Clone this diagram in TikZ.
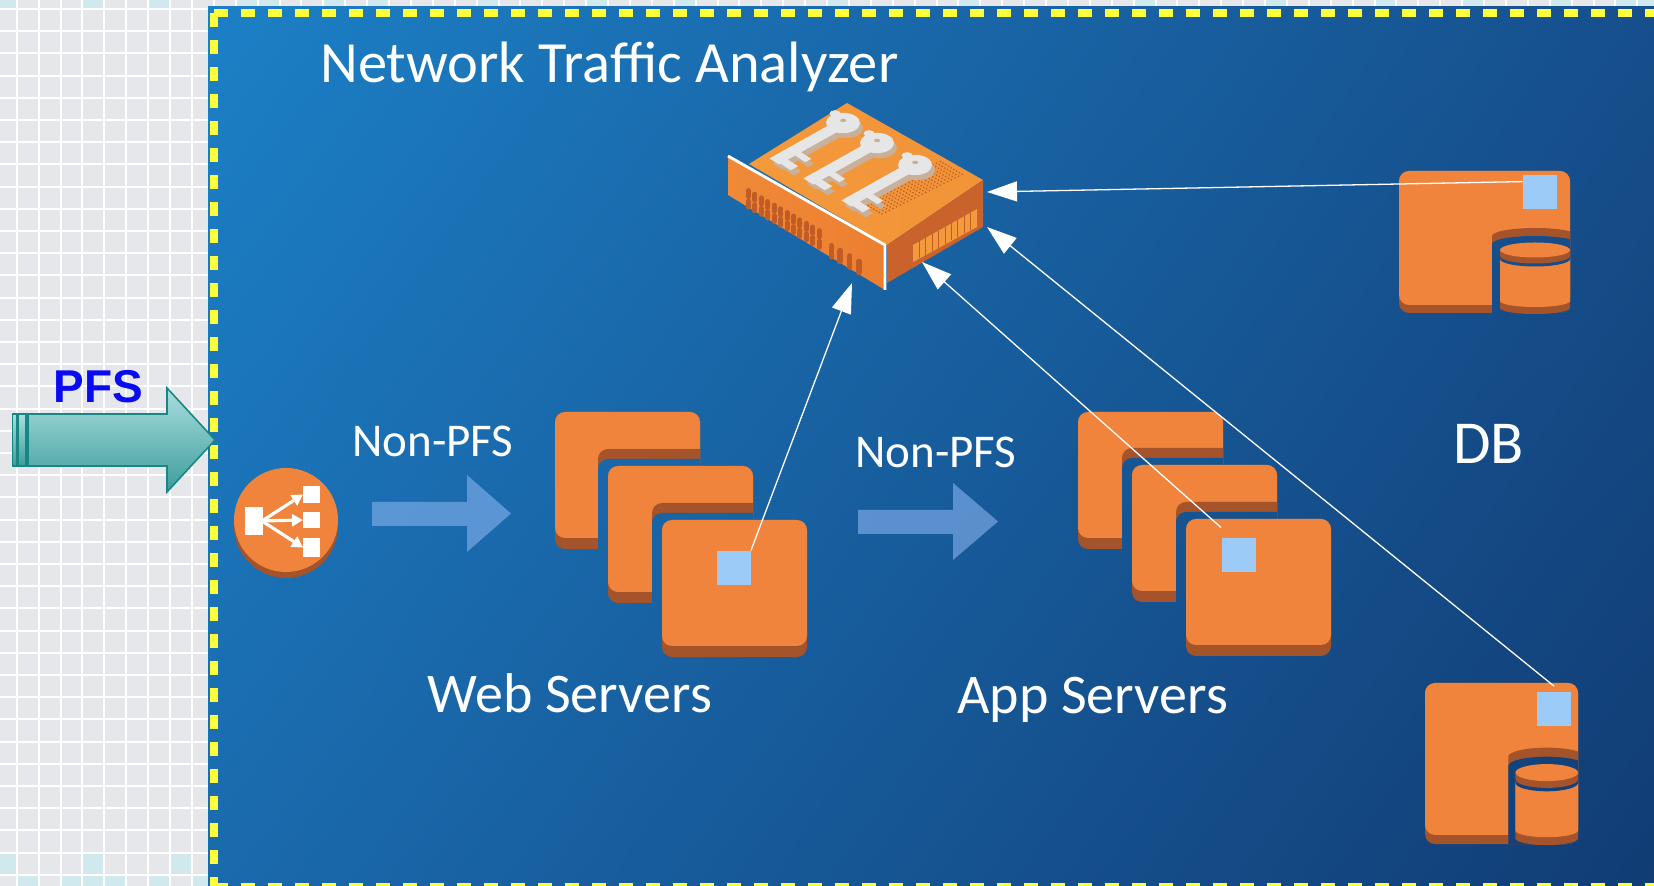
\documentclass[tikz,border=0pt]{standalone}
\usepackage{fontspec}
\setmainfont{Carlito}
\newfontfamily\pfsfont{Liberation Sans}
\usetikzlibrary{arrows.meta,calc,shadings}

\definecolor{gridbg}{HTML}{E6E7EB}
\definecolor{gridcyan}{HTML}{CFE9EE}
\definecolor{bgUL}{HTML}{1C80C6}
\definecolor{bgUR}{HTML}{164F8C}
\definecolor{bgLL}{HTML}{1A6AAD}
\definecolor{bgLR}{HTML}{113C74}
\definecolor{awsorange}{HTML}{F0843C}
\definecolor{awsbrown}{HTML}{A4532A}
\definecolor{sqblue}{HTML}{9CCBF8}
\definecolor{dashyellow}{HTML}{FFFF3A}
\definecolor{flowblue}{HTML}{82AFEB}
\definecolor{pfsblue}{HTML}{0A0AF5}
\definecolor{tealtop}{HTML}{AADEDF}
\definecolor{tealbot}{HTML}{3C9D9B}
\definecolor{tealedge}{HTML}{188784}
\definecolor{boxtop}{HTML}{F39A3B}
\definecolor{boxtopdark}{HTML}{F29338}
\definecolor{boxleft}{HTML}{F08A38}
\definecolor{boxleftdark}{HTML}{EC7F30}
\definecolor{boxright}{HTML}{C9632B}
\definecolor{grille}{HTML}{F39A3C}
\definecolor{vent}{HTML}{C25C27}
\definecolor{keywhite}{HTML}{E6E6E6}
\definecolor{keyshadow}{HTML}{C9B09A}

% background of the dashed panel
\newcommand\panelbg{\shade[upper left=bgUL,upper right=bgUR,lower left=bgLL,lower right=bgLR] (208,7) rectangle (1654,886);}

% one server tile: face plus its darker thickness
\newcommand\tile[2]{%
  \fill[awsbrown,rounded corners=5pt] (#1,#2) rectangle ++(145,137);
  \fill[awsorange,rounded corners=5pt] (#1,#2) rectangle ++(145,126);}

% cut the outline of the tile at (#3,#4) into the tile at (#1,#2)
\newcommand\notch[4]{%
  \begin{scope}
    \clip[rounded corners=5pt] (#1,#2) rectangle ++(145,137);
    \fill[awsbrown,rounded corners=5pt] (#3-10,#4-17) rectangle ++(400,400);
    \clip[rounded corners=5pt] (#3-10,#4-7) rectangle ++(400,400);
    \panelbg
  \end{scope}}

% database icon in local coordinates (tile 171 x 134)
\newcommand\dbicon{%
  \fill[awsbrown,rounded corners=5pt] (0,0) rectangle (171,142);
  \fill[awsorange,rounded corners=5pt] (0,0) rectangle (171,134);
  \begin{scope}
    \clip[rounded corners=5pt] (0,0) rectangle (171,142);
    \fill[awsbrown] (93,300) -- (93,65) arc[start angle=180,end angle=360,x radius=43,y radius=8] -- (179,300) -- cycle;
    \clip (93,300) -- (93,73) arc[start angle=180,end angle=360,x radius=43,y radius=8] -- (179,300) -- cycle;
    \begin{scope}[reset cm]\panelbg\end{scope}
  \end{scope}
  \fill[awsbrown] (101,87) -- (101,137) arc[start angle=180,end angle=0,x radius=35,y radius=6] -- (171,87) -- cycle;
  \fill[awsorange] (101,87) -- (101,130) arc[start angle=180,end angle=0,x radius=35,y radius=6] -- (171,87) -- cycle;
  \begin{scope}
    \clip (101,79) -- (101,88) arc[start angle=180,end angle=0,x radius=35,y radius=7.5] -- (171,79) -- cycle;
    \begin{scope}[reset cm]\panelbg\end{scope}
  \end{scope}
  \fill[awsbrown] (101,79) -- (101,85) arc[start angle=180,end angle=0,x radius=35,y radius=7.5] -- (171,79) -- cycle;
  \fill[awsorange] (136,79) ellipse[x radius=35,y radius=7.5];}

% a key lying flat on the appliance, head at the origin, shaft along +x
\newcommand\keyshape{%
  \fill (0,0) circle[radius=17];
  \fill (-5,17) circle[radius=5.5];
  \fill (10,-7) rectangle (94,7);
  \fill (64,-5) rectangle (72,-22);
  \fill (82,-5) rectangle (92,-22);}

\newcommand\cyancell[2]{\fill[gridcyan] (16.7+21.9*#1-21.9,9+22.2*#2-22.2) rectangle ++(21.9,22.2);}

\tikzset{
  ydash/.style={draw=dashyellow,line width=4pt,dash pattern=on 7.2pt off 6.3pt},
  lightsq/.style={rectangle,fill=sqblue,minimum size=17pt,inner sep=0pt},
  conn/.style={draw=white,line width=0.65pt,-{Triangle[length=15pt,width=10pt]}},
  label/.style={text=white,inner sep=0pt,anchor=base west},
  flow/.style={fill=flowblue,fill opacity=0.63},
  ventslot/.style={draw=vent,line cap=round},
  keypose/.style={yscale=0.6,rotate=223},
}

\begin{document}
\begin{tikzpicture}[x=0.5pt,y=-0.5pt]
\useasboundingbox (0,0) rectangle (1654,886);

% grid paper
\fill[gridbg] (0,0) rectangle (1654,886);
\foreach \i in {0,4,7,11,12,15,17,22,27,31,38,44,52,58,63,67,71,74,75} {\cyancell{\i}{0}}
\foreach \i in {0,4,8} {\cyancell{\i}{39}}
\foreach \i in {1,3,4,5,7,9} {\cyancell{\i}{40}}
\foreach \k in {0,...,76} {\draw[white,line width=1pt] (16.7+21.9*\k,0) -- ++(0,886);}
\foreach \k in {0,...,40} {\draw[white,line width=1pt] (0,9+22.2*\k) -- ++(1654,0);}

% panel
\panelbg

% server stacks
\tile{555}{412}\notch{555}{412}{608}{466}
\tile{608}{466}\notch{608}{466}{662}{520}
\tile{662}{520}
\tile{1078}{412}\notch{1078}{412}{1132}{465}
\tile{1132}{465}\notch{1132}{465}{1186}{519}
\tile{1186}{519}

% databases
\begin{scope}[shift={(1399,171)}]\dbicon\end{scope}
\begin{scope}[shift={(1425,683)},xscale=0.895,yscale=1.134]\dbicon\end{scope}

\node[lightsq] (websq) at (733.5,568) {};
\node[lightsq] (appsq) at (1238.5,555) {};
\node[lightsq] (dbA) at (1540,192) {};
\node[lightsq] (dbB) at (1554,709.5) {};

% load balancer
\fill[awsbrown] (286,526) circle[radius=52];
\fill[awsorange] (286,520) circle[radius=52];
\fill[white] (245,507) rectangle (263,535);
\fill[white] (303,486) rectangle (320,503);
\fill[white] (303,512) rectangle (320,528);
\fill[white] (303,538) rectangle (320,557);
\foreach \ty in {494.5,520,547.5}
  {\draw[white,line width=1.6pt,-{Triangle[length=5.5pt,width=6pt]}] (262,521) -- (303,\ty);}

% traffic arrows
\fill[flow] (372,502) -- (467,502) -- (467,475) -- (511,513.5) -- (467,552) -- (467,526) -- (372,526) -- cycle;
\fill[flow] (858,510) -- (953,510) -- (953,483) -- (998,521.5) -- (953,560) -- (953,534) -- (858,534) -- cycle;

% analyzer appliance
\coordinate (T) at (847,103);
\coordinate (L) at (749,164);
\coordinate (F) at (887,245);
\coordinate (R) at (983,180);
\coordinate (Rd) at (983,227);
\coordinate (Fd) at (887,283);
\coordinate (P1) at (728,156);
\coordinate (P2) at (885,245);
\coordinate (P3) at (885,290);
\coordinate (P4) at (728,195);
\shade[left color=boxtop,right color=boxtopdark] (L) -- (T) -- (R) -- (F) -- cycle;
\fill[boxright] (F) -- (R) -- (Rd) -- (Fd) -- cycle;
\fill[grille] (913,245) -- (977,209) -- (977,227) -- (913,262) -- cycle;
\foreach \i in {1,...,9}
  {\draw[vent,line width=0.4pt] (913+6.4*\i,245-3.6*\i) -- ++(0,17);}
\shade[left color=boxleft,right color=boxleftdark] (P1) -- (P2) -- (P3) -- (P4) -- cycle;
\foreach \s in {0.13,0.171,...,0.6}
  {\draw[ventslot,line width=2.5pt] ($(P1)!\s!(P2)+(0,23)$) -- ++(0,6);
   \draw[ventslot,line width=2.5pt] ($(P1)!\s!(P2)+(0,33.5)$) -- ++(0,6);}
\foreach \s in {0.66,0.715,0.775,0.835}
  {\draw[ventslot,line width=2.8pt] ($(P1)!\s!(P2)+(0,31)$) -- ++(0,11);}
\foreach \a in {0,0.045,...,1.01}
  \foreach \b in {0,0.125,...,1.01}
    {\fill[vent] ($(882,214)+\a*(81,-40)+\b*(-22,-13)$) circle[radius=0.9];}
\draw[white,line width=1.4pt,line join=round] (P1) -- (P2) -- (P3);
\foreach \hx/\hy in {843/123,877/143,915/165}
  {\begin{scope}[shift={(\hx+3,\hy+5)},keypose,keyshadow]\keyshape\end{scope}
   \begin{scope}[shift={(\hx,\hy)},keypose,keywhite]\keyshape
     \fill[keyshadow] (-3,3) circle[radius=3];\end{scope}}

\coordinate (in1) at (852,283);
\coordinate (in2) at (922,262);
\coordinate (in3) at (987,227);
\coordinate (in4) at (987,192);

% connectors into the analyzer
\draw[conn] (websq.north east) -- (in1);
\draw[conn] ([yshift=5pt]appsq.north west) -- (in2);
\draw[conn] ([yshift=3pt]dbB.north) -- (in3);
\draw[conn] ([yshift=-3.5pt]dbA.north west) -- (in4);

% labels
\node[label,font=\fontsize{29.2pt}{31pt}\selectfont] (title) at (320,83) {Network Traffic Analyzer};
\node[label,font=\fontsize{23.5pt}{25pt}\selectfont] (np1) at (352,457) {Non-PFS};
\node[label,font=\fontsize{23.5pt}{25pt}\selectfont] (np2) at (855,468) {Non-PFS};
\node[label,font=\fontsize{28pt}{30pt}\selectfont] (web) at (427,712) {Web Servers};
\node[label,font=\fontsize{28pt}{30pt}\selectfont] (app) at (957,713) {App Servers};
\node[label,font=\fontsize{30.5pt}{32pt}\selectfont] (db) at (1453,464) {DB};

% dashed panel border
\draw[ydash] (214,13) -- (1660,13);
\draw[ydash] (214,13) -- (214,892);
\draw[ydash] (214,887) -- (1660,887);

% incoming PFS arrow
\shadedraw[top color=tealtop,bottom color=tealbot,draw=tealedge,line width=0.8pt,line join=miter]
  (28,414) -- (167,414) -- (167,388) -- (215,440) -- (167,492) -- (167,466) -- (28,466) -- cycle;
\shadedraw[top color=tealtop,bottom color=tealbot,draw=tealedge,line width=0.8pt] (12.3,414) rectangle (16.7,466);
\shadedraw[top color=tealtop,bottom color=tealbot,draw=tealedge,line width=0.8pt] (18.5,414) rectangle (25.7,466);
\node[inner sep=0pt,anchor=base west,text=pfsblue,font=\pfsfont\bfseries\fontsize{23pt}{25pt}\selectfont] (pfs) at (53,403) {PFS};
\end{tikzpicture}
\end{document}
